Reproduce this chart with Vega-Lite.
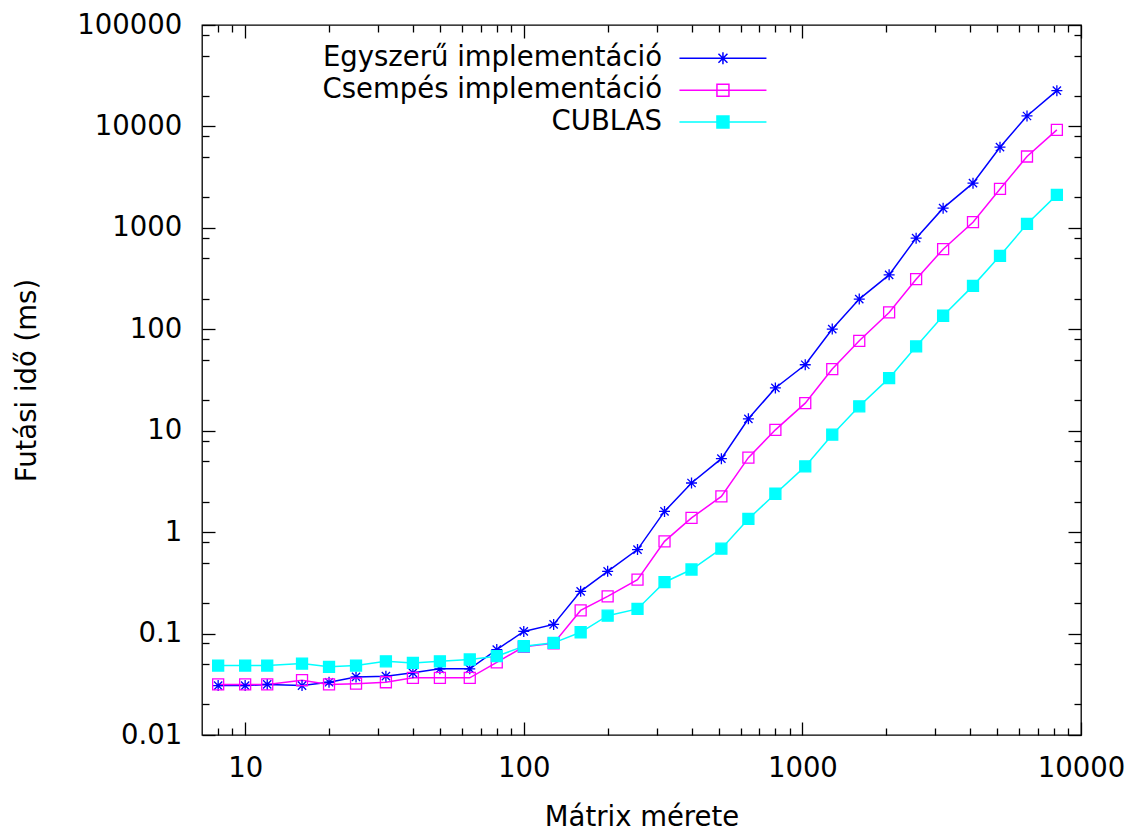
{
  "$schema": "https://vega.github.io/schema/vega-lite/v6.json",
  "width": 879,
  "height": 710,
  "autosize": {"type": "none"},
  "padding": {"left": 202, "top": 25, "right": 56, "bottom": 96},
  "background": "white",
  "config": {
    "font": "DejaVu Sans",
    "view": {"stroke": "#000", "strokeWidth": 1.3},
    "axis": {
      "labelFont": "DejaVu Sans", "titleFont": "DejaVu Sans",
      "labelFontSize": 27.5, "titleFontSize": 27.5, "titleFontWeight": "normal",
      "labelColor": "#000", "titleColor": "#000", "tickColor": "#000", "tickWidth": 1.3,
      "grid": false, "domain": false, "labelFlush": false, "labelOverlap": false
    },
    "legend": {
      "labelFont": "DejaVu Sans", "labelFontSize": 27.5, "labelColor": "#000",
      "labelAlign": "right", "labelOffset": -74.7, "labelLimit": 600,
      "symbolSize": 144, "symbolStrokeWidth": 1.5, "padding": 0, "rowPadding": 2.9
    }
  },
  "data": {"values": [
    {"n": 8, "Egyszerű implementáció": 0.0307, "Csempés implementáció": 0.0315, "CUBLAS": 0.0484},
    {"n": 10, "Egyszerű implementáció": 0.0307, "Csempés implementáció": 0.0315, "CUBLAS": 0.0484},
    {"n": 12, "Egyszerű implementáció": 0.0315, "Csempés implementáció": 0.0315, "CUBLAS": 0.0484},
    {"n": 16, "Egyszerű implementáció": 0.0307, "Csempés implementáció": 0.0347, "CUBLAS": 0.0506},
    {"n": 20, "Egyszerű implementáció": 0.0331, "Csempés implementáció": 0.0315, "CUBLAS": 0.047},
    {"n": 25, "Egyszerű implementáció": 0.0374, "Csempés implementáció": 0.0321, "CUBLAS": 0.0484},
    {"n": 32, "Egyszerű implementáció": 0.038, "Csempés implementáció": 0.0331, "CUBLAS": 0.0533},
    {"n": 40, "Egyszerű implementáció": 0.041, "Csempés implementáció": 0.0366, "CUBLAS": 0.0514},
    {"n": 50, "Egyszerű implementáció": 0.0449, "Csempés implementáció": 0.0366, "CUBLAS": 0.0533},
    {"n": 64, "Egyszerű implementáció": 0.0449, "Csempés implementáció": 0.0366, "CUBLAS": 0.0555},
    {"n": 80, "Egyszerű implementáció": 0.0695, "Csempés implementáció": 0.0521, "CUBLAS": 0.0598},
    {"n": 100, "Egyszerű implementáció": 0.105, "Csempés implementáció": 0.074, "CUBLAS": 0.075},
    {"n": 128, "Egyszerű implementáció": 0.123, "Csempés implementáció": 0.08, "CUBLAS": 0.081},
    {"n": 160, "Egyszerű implementáció": 0.261, "Csempés implementáció": 0.169, "CUBLAS": 0.103},
    {"n": 200, "Egyszerű implementáció": 0.411, "Csempés implementáció": 0.233, "CUBLAS": 0.15},
    {"n": 256, "Egyszerű implementáció": 0.673, "Csempés implementáció": 0.34, "CUBLAS": 0.175},
    {"n": 320, "Egyszerű implementáció": 1.6, "Csempés implementáció": 0.811, "CUBLAS": 0.321},
    {"n": 400, "Egyszerű implementáció": 3.05, "Csempés implementáció": 1.38, "CUBLAS": 0.428},
    {"n": 512, "Egyszerű implementáció": 5.3, "Csempés implementáció": 2.25, "CUBLAS": 0.687},
    {"n": 640, "Egyszerű implementáció": 13.1, "Csempés implementáció": 5.42, "CUBLAS": 1.35},
    {"n": 800, "Egyszerű implementáció": 26.4, "Csempés implementáció": 10.2, "CUBLAS": 2.39},
    {"n": 1024, "Egyszerű implementáció": 44.7, "Csempés implementáció": 18.7, "CUBLAS": 4.45},
    {"n": 1280, "Egyszerű implementáció": 100.5, "Csempés implementáció": 40.5, "CUBLAS": 9.14},
    {"n": 1600, "Egyszerű implementáció": 198.6, "Csempés implementáció": 77, "CUBLAS": 17.4},
    {"n": 2048, "Egyszerű implementáció": 344, "Csempés implementáció": 146.5, "CUBLAS": 33},
    {"n": 2560, "Egyszerű implementáció": 792, "Csempés implementáció": 312, "CUBLAS": 67.8},
    {"n": 3200, "Egyszerű implementáció": 1564, "Csempés implementáció": 616, "CUBLAS": 136},
    {"n": 4096, "Egyszerű implementáció": 2757, "Csempés implementáció": 1137, "CUBLAS": 268},
    {"n": 5120, "Egyszerű implementáció": 6240, "Csempés implementáció": 2421, "CUBLAS": 530},
    {"n": 6400, "Egyszerű implementáció": 12680, "Csempés implementáció": 5050, "CUBLAS": 1094},
    {"n": 8192, "Egyszerű implementáció": 22540, "Csempés implementáció": 9250, "CUBLAS": 2115}
  ]},
  "transform": [
    {"fold": ["Egyszerű implementáció", "Csempés implementáció", "CUBLAS"], "as": ["series", "ms"]}
  ],
  "resolve": {"axis": {"x": "independent", "y": "independent"}},
  "layer": [
    {
      "mark": {"type": "line", "strokeWidth": 1.5},
      "encoding": {
        "x": {
          "field": "n", "type": "quantitative",
          "scale": {"type": "log", "domain": [7, 10000], "nice": false},
          "axis": {
            "orient": "bottom",
            "values": [8, 9, 10, 20, 30, 40, 50, 60, 70, 80, 90, 100, 200, 300, 400, 500, 600, 700, 800, 900, 1000, 2000, 3000, 4000, 5000, 6000, 7000, 8000, 9000, 10000],
            "labelExpr": "indexof([10,100,1000,10000], datum.value) >= 0 ? datum.value + '' : ''",
            "tickSize": {"condition": {"test": "indexof([10,100,1000,10000], datum.value) >= 0", "value": -13}, "value": -7},
            "labelPadding": 32.5,
            "title": "Mátrix mérete",
            "titleX": 439.5, "titleY": 90.5, "titleBaseline": "alphabetic", "titleAlign": "center"
          }
        },
        "y": {
          "field": "ms", "type": "quantitative",
          "scale": {"type": "log", "domain": [0.01, 100000], "nice": false},
          "axis": {
            "orient": "left",
            "values": [0.01, 0.02, 0.05, 0.08, 0.1, 0.2, 0.5, 0.8, 1, 2, 5, 8, 10, 20, 50, 80, 100, 200, 500, 800, 1000, 2000, 5000, 8000, 10000, 20000, 50000, 80000, 100000],
            "labelExpr": "indexof([0.01,0.1,1,10,100,1000,10000,100000], datum.value) >= 0 ? datum.value + '' : ''",
            "tickSize": {"condition": {"test": "indexof([0.01,0.1,1,10,100,1000,10000,100000], datum.value) >= 0", "value": -13}, "value": -7},
            "labelPadding": 33.3,
            "title": "Futási idő (ms)",
            "titleX": -167, "titleY": 355, "titleBaseline": "alphabetic", "titleAngle": -90, "titleAlign": "center"
          }
        },
        "color": {
          "field": "series", "type": "nominal",
          "scale": {"domain": ["Egyszerű implementáció", "Csempés implementáció", "CUBLAS"], "range": ["#0000ff", "#ff00ff", "#00ffff"]},
          "legend": {
            "title": null, "orient": "none", "legendX": 507.2, "legendY": 19.5,
            "encode": {"symbols": {"update": {
              "shape": {"signal": "datum.value === 'Egyszerű implementáció' ? 'M-7.25,0H7.25M-1,0H1M0,-1V1M-0.75,-0.75L0.75,0.75M-0.75,0.75L0.75,-0.75' : 'M-7.25,0H7.25M-1,-1H1V1H-1Z'"},
              "fill": {"signal": "datum.value === 'CUBLAS' ? '#00ffff' : 'transparent'"},
              "strokeWidth": {"value": 1.5}
            }}}
          }
        }
      }
    },
    {
      "transform": [{"filter": {"field": "series", "equal": "Egyszerű implementáció"}}],
      "mark": {"type": "point", "size": 121, "strokeWidth": 1.3, "opacity": 1, "filled": false, "stroke": "#0000ff", "fill": "transparent", "shape": "M-1,0H1M0,-1V1M-0.75,-0.75L0.75,0.75M-0.75,0.75L0.75,-0.75"},
      "encoding": {
        "x": {
          "field": "n", "type": "quantitative",
          "scale": {"type": "log", "domain": [7, 10000], "nice": false},
          "axis": {
            "orient": "top", "labels": false, "title": null,
            "values": [8, 9, 10, 20, 30, 40, 50, 60, 70, 80, 90, 100, 200, 300, 400, 500, 600, 700, 800, 900, 1000, 2000, 3000, 4000, 5000, 6000, 7000, 8000, 9000, 10000],
            "tickSize": {"condition": {"test": "indexof([10,100,1000,10000], datum.value) >= 0", "value": -13}, "value": -7}
          }
        },
        "y": {
          "field": "ms", "type": "quantitative",
          "scale": {"type": "log", "domain": [0.01, 100000], "nice": false},
          "axis": {
            "orient": "right", "labels": false, "title": null,
            "values": [0.01, 0.02, 0.05, 0.08, 0.1, 0.2, 0.5, 0.8, 1, 2, 5, 8, 10, 20, 50, 80, 100, 200, 500, 800, 1000, 2000, 5000, 8000, 10000, 20000, 50000, 80000, 100000],
            "tickSize": {"condition": {"test": "indexof([0.01,0.1,1,10,100,1000,10000,100000], datum.value) >= 0", "value": -13}, "value": -7}
          }
        }
      }
    },
    {
      "transform": [{"filter": {"field": "series", "equal": "Csempés implementáció"}}],
      "mark": {"type": "point", "size": 121, "strokeWidth": 1.3, "opacity": 1, "filled": false, "stroke": "#ff00ff", "fill": "transparent", "shape": "M-1,-1H1V1H-1Z"},
      "encoding": {
        "x": {"field": "n", "type": "quantitative", "scale": {"type": "log", "domain": [7, 10000], "nice": false}, "axis": null},
        "y": {"field": "ms", "type": "quantitative", "scale": {"type": "log", "domain": [0.01, 100000], "nice": false}, "axis": null}
      }
    },
    {
      "transform": [{"filter": {"field": "series", "equal": "CUBLAS"}}],
      "mark": {"type": "point", "size": 121, "strokeWidth": 1.3, "opacity": 1, "filled": true, "stroke": "#00ffff", "fill": "#00ffff", "shape": "M-1,-1H1V1H-1Z"},
      "encoding": {
        "x": {"field": "n", "type": "quantitative", "scale": {"type": "log", "domain": [7, 10000], "nice": false}, "axis": null},
        "y": {"field": "ms", "type": "quantitative", "scale": {"type": "log", "domain": [0.01, 100000], "nice": false}, "axis": null}
      }
    }
  ]
}
